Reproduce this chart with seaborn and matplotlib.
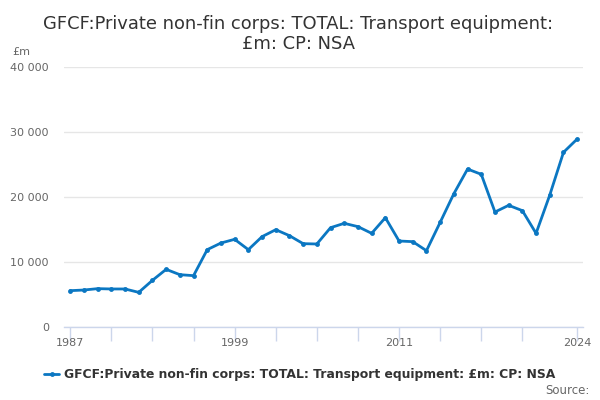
import matplotlib as mpl
mpl.use("Agg")
import matplotlib.pyplot as plt
import seaborn as sns
import pandas as pd

years = list(range(1987, 2025))
values = [5590, 5690, 5900, 5850, 5850, 5330, 7180, 8870, 8050, 7900,
          11900, 12920, 13490, 11900, 13900, 14970, 14050, 12820, 12770, 15280,
          15950, 15440, 14410, 16820, 13230, 13130, 11740, 16100, 20510, 24300,
          23490, 17690, 18720, 17900, 14410, 20300, 26870, 28920]
series_name = "GFCF:Private non-fin corps: TOTAL: Transport equipment: £m: CP: NSA"
title = "GFCF:Private non-fin corps: TOTAL: Transport equipment:\n£m: CP: NSA"
tick_years = [1987, 1990, 1993, 1996, 1999, 2002, 2005, 2008, 2011, 2014, 2017, 2020, 2024]
label_years = [1987, 1999, 2011, 2024]
y_ticks = [0, 10000, 20000, 30000, 40000]

df = pd.DataFrame({"year": years, "value": values})

sns.set_theme(style="white")
plt.rcParams['font.family'] = ['DejaVu Sans']

line_col = "#0b77c2"
fig = plt.figure(figsize=(6, 4), dpi=100)
ax = fig.add_axes([0.107, 0.1825, 0.865, 0.65])

sns.lineplot(data=df, x="year", y="value", ax=ax, color=line_col, linewidth=2,
             marker="o", markersize=3.5, markeredgewidth=0, label=series_name)

ax.set_xlim(1986.56, 2024.44)
ax.set_ylim(0, 40000)
ax.set_yticks(y_ticks)
ax.set_yticklabels([f"{v:,}".replace(",", " ") for v in y_ticks], color="#666666", fontsize=8)
ax.set_xticks(tick_years)
ax.set_xticklabels([str(y) if y in label_years else "" for y in tick_years],
                   color="#666666", fontsize=8)
ax.tick_params(axis="x", length=10, width=1, color="#ccd6eb", pad=-2, direction="out", bottom=True)
ax.tick_params(axis="y", length=0, pad=11)
ax.yaxis.grid(True, color="#e6e6e6", linewidth=1)
ax.set_xlabel("")
ax.set_ylabel("")
for s in ["top", "right", "left"]:
    ax.spines[s].set_visible(False)
ax.spines["bottom"].set_color("#ccd6eb")
ax.spines["bottom"].set_linewidth(1)

fig.text(0.497, 0.915, title, ha="center", va="center", fontsize=12.9, color="#333333",
         linespacing=1.2)
fig.text(0.02, 0.87, "£m", ha="left", va="center", fontsize=8, color="#666666")

leg = ax.legend(loc="upper left", bbox_to_anchor=(-0.06, -0.115), frameon=False,
                handlelength=1.2, handletextpad=0.4, fontsize=8.9)
for t in leg.get_texts():
    t.set_fontweight("bold")
    t.set_color("#333333")

fig.text(0.982, 0.025, "Source:", ha="right", va="center", fontsize=8.5, color="#666666")

fig.savefig("out.png", dpi=100)
